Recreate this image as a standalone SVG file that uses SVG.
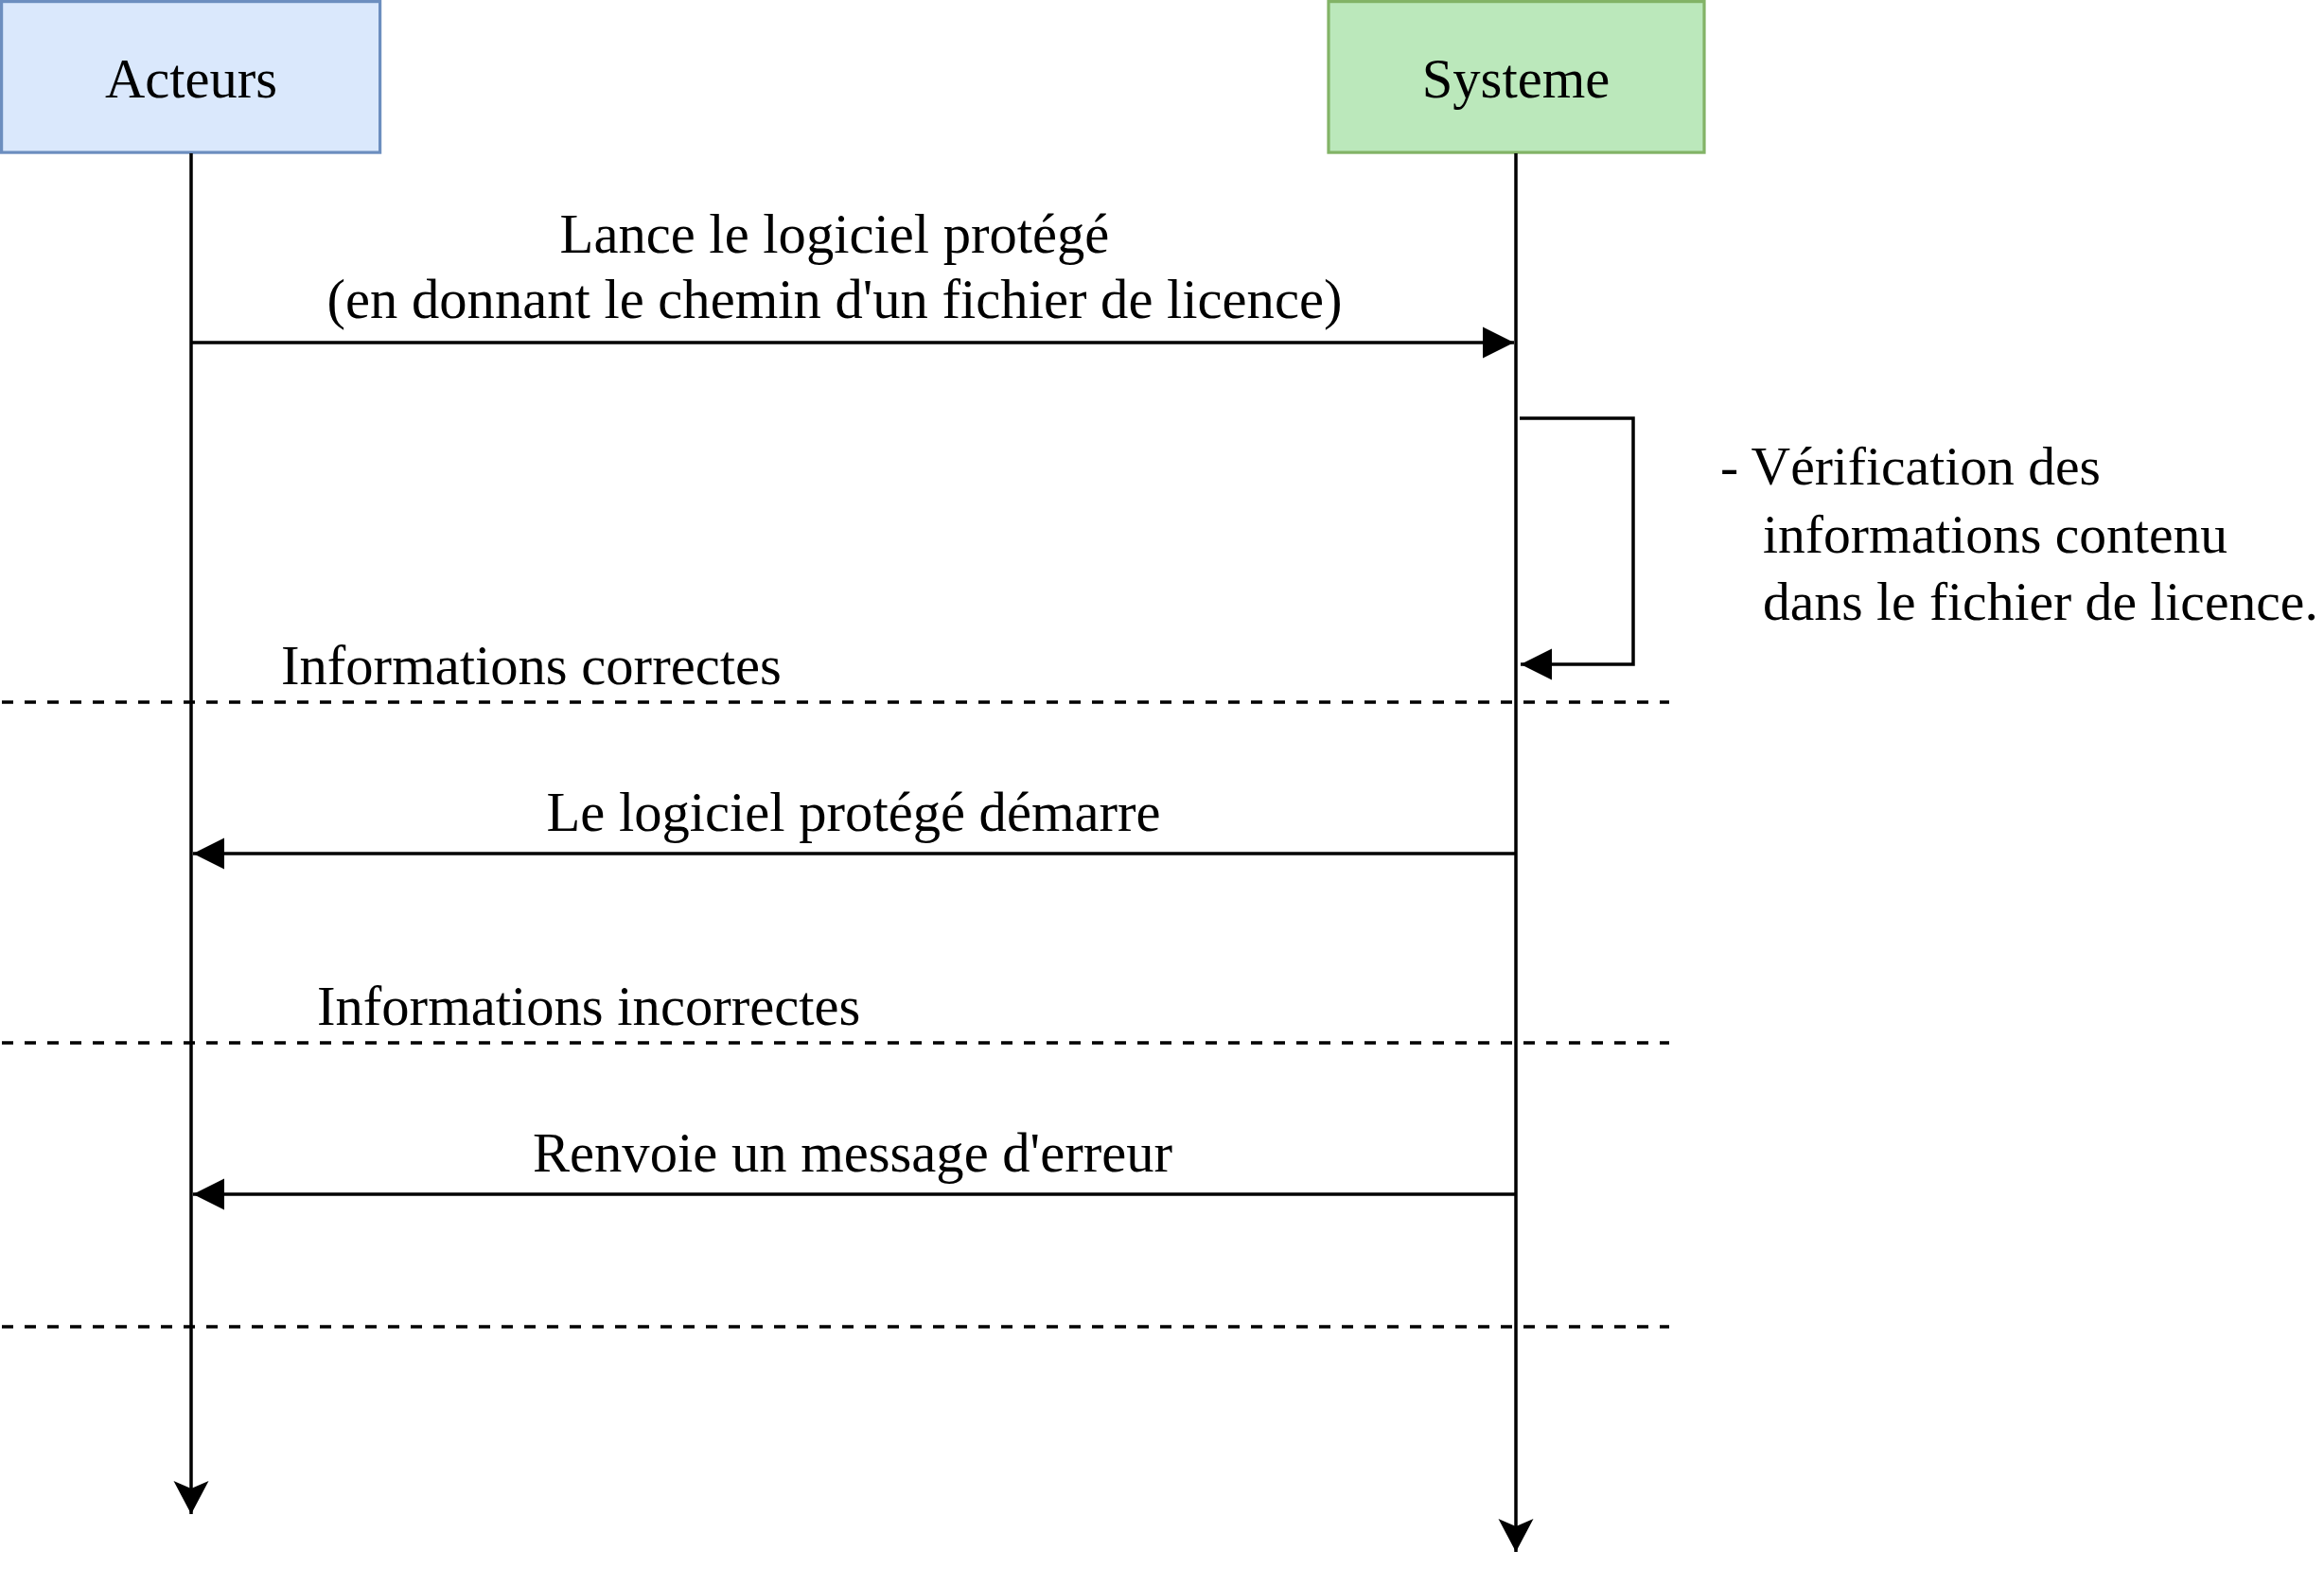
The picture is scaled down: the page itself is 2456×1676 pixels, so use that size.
<svg xmlns="http://www.w3.org/2000/svg" width="2456" height="1676" viewBox="0 0 2456 1676">
<style>
text{font-family:"Liberation Serif","Times New Roman",serif;font-size:58.6px;fill:#000}
.mid{text-anchor:middle}
.note{font-size:57.6px}
.ln{stroke:#000;stroke-width:3.5;fill:none}
.dash{stroke:#000;stroke-width:3.5;stroke-dasharray:12 12;fill:none}
</style>
<defs>
<marker id="block" markerUnits="userSpaceOnUse" markerWidth="34" markerHeight="34" refX="33" refY="16.5" orient="auto" overflow="visible">
<path d="M0,0 L33,16.5 L0,33 Z" fill="#000"/>
</marker>
<marker id="classic" markerUnits="userSpaceOnUse" markerWidth="36" markerHeight="38" refX="35" refY="18.5" orient="auto" overflow="visible">
<path d="M0,0 L35,18.5 L0,37 L8,18.5 Z" fill="#000"/>
</marker>
</defs>
<g id="acteurs">
<rect x="1.6" y="1.6" width="400" height="159.5" fill="#dae8fc" stroke="#6c8ebf" stroke-width="3.2"/>
<text class="mid" x="202" y="103">Acteurs</text>
</g>
<g id="systeme">
<rect x="1404" y="1.6" width="397" height="159.5" fill="#bbe8bb" stroke="#82b366" stroke-width="3.2"/>
<text class="mid" x="1602" y="103">Systeme</text>
</g>
<g id="connectors">
<line class="ln" x1="202" y1="162" x2="202" y2="1600" marker-end="url(#classic)"/>
<line class="ln" x1="1602" y1="162" x2="1602" y2="1640" marker-end="url(#classic)"/>
<line class="ln" x1="202" y1="362" x2="1600" y2="362" marker-end="url(#block)"/>
<polyline class="ln" points="1606,442 1726,442 1726,702 1607,702" marker-end="url(#block)"/>
<line class="ln" x1="1602" y1="902" x2="204" y2="902" marker-end="url(#block)"/>
<line class="ln" x1="1602" y1="1262" x2="204" y2="1262" marker-end="url(#block)"/>
<line class="dash" x1="2" y1="742" x2="1764" y2="742"/>
<line class="dash" x1="2" y1="1102" x2="1764" y2="1102"/>
<line class="dash" x1="2" y1="1402" x2="1764" y2="1402"/>
</g>
<g id="labels">
<text class="mid" x="882" y="267">Lance le logiciel protégé</text>
<text class="mid" x="882" y="336">(en donnant le chemin d'un fichier de licence)</text>
<text class="note" x="1818" y="512">- Vérification des</text>
<text class="note" x="1863" y="584">informations contenu</text>
<text class="note" x="1863" y="655">dans le fichier de licence.</text>
<text x="297" y="723">Informations correctes</text>
<text class="mid" x="902" y="878">Le logiciel protégé démarre</text>
<text x="335" y="1083">Informations incorrectes</text>
<text class="mid" x="901" y="1238">Renvoie un message d'erreur</text>
</g>
</svg>
